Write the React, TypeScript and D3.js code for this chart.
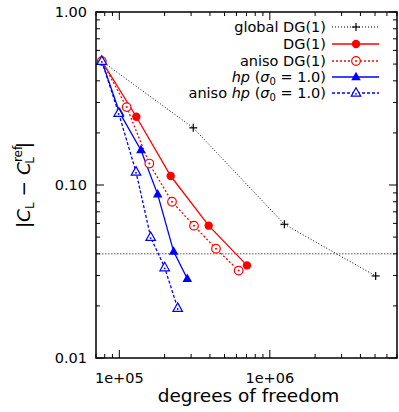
import React from "react";
import * as d3 from "d3";

const globalDGx = [76500, 310000, 1250000, 5050000];
const globalDGy = [0.52, 0.214, 0.0593, 0.0298];
const dgX = [76500, 129700, 219500, 392500, 705000];
const dgY = [0.52, 0.248, 0.1127, 0.0582, 0.0343];
const anisoDGx = [76500, 111900, 158200, 223900, 313500, 438800, 621000];
const anisoDGy = [0.52, 0.282, 0.133, 0.08, 0.0582, 0.0428, 0.032];
const hpX = [76500, 100500, 139300, 179800, 229700, 283000];
const hpY = [0.52, 0.262, 0.159, 0.0883, 0.0412, 0.0287];
const anisoHpX = [76500, 99000, 129100, 161600, 200200, 244300];
const anisoHpY = [0.52, 0.26, 0.119, 0.0499, 0.0333, 0.0194];
const refLine = 0.04;
const yTickVals = [1, 0.1, 0.01];
const yTickLabels = ["1.00", "0.10", "0.01"];
const xTickVals = [1e5, 1e6];
const xTickLabels = ["1e+05", "1e+06"];

const W = 399, H = 412;
const L = 96, R = 397, T = 12, B = 358;
const FONT = "'DejaVu Sans', sans-serif";

export default function App() {
  const x = d3.scaleLog().domain([7e4, 7e6]).range([L, R]);
  const y = d3.scaleLog().domain([0.01, 1]).range([B, T]);
  const line = d3.line<[number, number]>().x(d => x(d[0])).y(d => y(d[1]));
  const zip = (a: number[], b: number[]) => a.map((v, i) => [v, b[i]] as [number, number]);

  const xMinor: number[] = [];
  for (let e = 4; e <= 6; e++) for (let m = 1; m <= 9; m++) {
    const v = m * Math.pow(10, e);
    if (v >= 7e4 && v <= 7e6 && m !== 1) xMinor.push(v);
  }
  const yMinor: number[] = [];
  for (let e = -2; e <= -1; e++) for (let m = 2; m <= 9; m++) yMinor.push(m * Math.pow(10, e));

  const red = "#ff0000", blue = "#0000ff";

  const tri = (cx: number, cy: number, s: number) =>
    `M${cx},${cy - s} L${cx + s * 0.9},${cy + s * 0.6} L${cx - s * 0.9},${cy + s * 0.6} Z`;

  const series = [
    { label: "global", xs: globalDGx, ys: globalDGy, color: "#000", dash: "1,2", w: 1, marker: "plus" },
    { label: "dg", xs: dgX, ys: dgY, color: red, dash: "", w: 1.3, marker: "dot" },
    { label: "adg", xs: anisoDGx, ys: anisoDGy, color: red, dash: "2,2", w: 1.3, marker: "ocirc" },
    { label: "hp", xs: hpX, ys: hpY, color: blue, dash: "", w: 1.3, marker: "tri" },
    { label: "ahp", xs: anisoHpX, ys: anisoHpY, color: blue, dash: "3,2", w: 1.3, marker: "otri" },
  ];

  const drawMarker = (m: string, cx: number, cy: number, color: string, key: string) => {
    switch (m) {
      case "plus":
        return (
          <g key={key} stroke={color} strokeWidth={1.2}>
            <line x1={cx - 4} x2={cx + 4} y1={cy} y2={cy} />
            <line x1={cx} x2={cx} y1={cy - 4} y2={cy + 4} />
          </g>
        );
      case "dot":
        return <circle key={key} cx={cx} cy={cy} r={4.2} fill={color} />;
      case "ocirc":
        return (
          <g key={key}>
            <circle cx={cx} cy={cy} r={4.3} fill="white" stroke={color} strokeWidth={1.2} />
            <circle cx={cx} cy={cy} r={1} fill={color} />
          </g>
        );
      case "tri":
        return <path key={key} d={tri(cx, cy, 5.3)} fill={color} />;
      case "otri":
        return (
          <g key={key}>
            <path d={tri(cx, cy, 5.3)} fill="white" stroke={color} strokeWidth={1.2} />
            <circle cx={cx} cy={cy + 0.8} r={0.9} fill={color} />
          </g>
        );
    }
    return null;
  };

  const legendRows = [
    { s: series[0], text: <tspan>global DG(1)</tspan> },
    { s: series[1], text: <tspan>DG(1)</tspan> },
    { s: series[2], text: <tspan>aniso DG(1)</tspan> },
    { s: series[3], text: <><tspan fontStyle="italic">hp</tspan><tspan> (</tspan><tspan fontStyle="italic">σ</tspan><tspan fontSize={10} dy={3}>0</tspan><tspan dy={-3}> = 1.0)</tspan></> },
    { s: series[4], text: <><tspan>aniso </tspan><tspan fontStyle="italic">hp</tspan><tspan> (</tspan><tspan fontStyle="italic">σ</tspan><tspan fontSize={10} dy={3}>0</tspan><tspan dy={-3}> = 1.0)</tspan></> },
  ];
  const legY = [27, 44, 61, 77, 93];

  return (
    <svg width={W} height={H} style={{ position: "absolute", left: 0, top: 0, background: "white" }} fontFamily={FONT}>
      <rect x={0} y={0} width={W} height={H} fill="white" />
      <line x1={L} x2={R} y1={y(refLine)} y2={y(refLine)} stroke="#555" strokeWidth={1} strokeDasharray="1.5,1.5" />
      <g stroke="#000" strokeWidth={1}>
        {xMinor.map((v, i) => (
          <g key={"xm" + i}>
            <line x1={x(v)} x2={x(v)} y1={B} y2={B - 4} />
            <line x1={x(v)} x2={x(v)} y1={T} y2={T + 4} />
          </g>
        ))}
        {xTickVals.map((v, i) => (
          <g key={"xM" + i}>
            <line x1={x(v)} x2={x(v)} y1={B} y2={B - 8} />
            <line x1={x(v)} x2={x(v)} y1={T} y2={T + 8} />
          </g>
        ))}
        {yMinor.map((v, i) => (
          <g key={"ym" + i}>
            <line x1={L} x2={L + 4} y1={y(v)} y2={y(v)} />
            <line x1={R} x2={R - 4} y1={y(v)} y2={y(v)} />
          </g>
        ))}
        {yTickVals.map((v, i) => (
          <g key={"yM" + i}>
            <line x1={L} x2={L + 8} y1={y(v)} y2={y(v)} />
            <line x1={R} x2={R - 8} y1={y(v)} y2={y(v)} />
          </g>
        ))}
      </g>
      {yTickVals.map((v, i) => (
        <text key={"yl" + i} x={L - 9} y={y(v)} dy="0.35em" textAnchor="end" fontSize={14.5}>{yTickLabels[i]}</text>
      ))}
      {xTickVals.map((v, i) => (
        <text key={"xl" + i} x={x(v)} y={B + 20} dy="0.35em" textAnchor="middle" fontSize={14.5}>{xTickLabels[i]}</text>
      ))}
      <text x={(L + R) / 2 + 2} y={402} textAnchor="middle" fontSize={18.5}>degrees of freedom</text>
      <text transform={`translate(30,${(T + B) / 2}) rotate(-90)`} textAnchor="middle" fontSize={18.5}>
        <tspan>|</tspan><tspan fontStyle="italic">C</tspan><tspan fontSize={12} dy={4}>L</tspan>
        <tspan dy={-4}> − </tspan><tspan fontStyle="italic">C</tspan>
        <tspan fontSize={12} dy={-8}>ref</tspan><tspan fontSize={12} dx={-18} dy={12}>L</tspan>
        <tspan dx={9} dy={-4}>|</tspan>
      </text>
      {series.map((s, i) => (
        <path key={"l" + i} d={line(zip(s.xs, s.ys)) || ""} fill="none" stroke={s.color} strokeWidth={s.w} strokeDasharray={s.dash || undefined} />
      ))}
      {series.map((s, i) => (
        <g key={"m" + i}>
          {zip(s.xs, s.ys).map((d, j) => drawMarker(s.marker, x(d[0]), y(d[1]), s.color, `m${i}-${j}`))}
        </g>
      ))}
      {legendRows.map((r, i) => (
        <g key={"lg" + i}>
          <text x={326} y={legY[i]} dy="0.35em" textAnchor="end" fontSize={14.5}>{r.text}</text>
          <line x1={332} x2={379} y1={legY[i]} y2={legY[i]} stroke={r.s.color} strokeWidth={r.s.w} strokeDasharray={r.s.dash || undefined} />
          {drawMarker(r.s.marker, 356, legY[i], r.s.color, "lm" + i)}
        </g>
      ))}
      <rect x={L} y={T} width={R - L} height={B - T} fill="none" stroke="#000" strokeWidth={1.5} />
    </svg>
  );
}
